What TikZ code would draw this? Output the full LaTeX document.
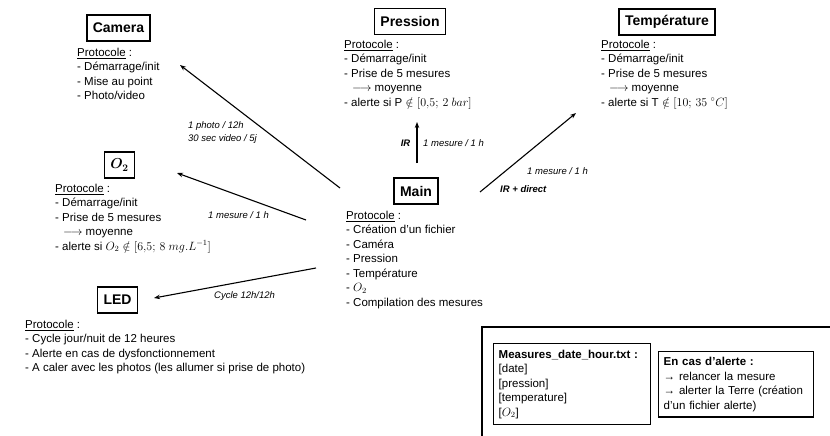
\documentclass[tikz,border=0pt]{standalone}
\usepackage{fontspec}
\setmainfont{Liberation Sans}
\usepackage{amsmath}
\usepackage{bm}
\usetikzlibrary{arrows.meta}
\begin{document}
\begin{tikzpicture}[x=1pt,y=-1pt,
  titlebox/.style={draw,line width=1.4pt,font=\fontsize{14}{16}\selectfont\bfseries,inner xsep=6pt,inner ysep=0pt,minimum height=26pt},
  proto/.style={anchor=north west,align=left,inner sep=0pt,font=\fontsize{11.5}{14.5}\selectfont},
  lbl/.style={anchor=west,inner sep=0pt,font=\fontsize{9.5}{12.5}\selectfont\itshape},
  lblb/.style={anchor=west,inner sep=0pt,font=\fontsize{9.5}{12.5}\selectfont\bfseries\itshape},
  arr/.style={-{Stealth[length=6pt,width=4.5pt]},line width=1.1pt},
  infobox/.style={draw,line width=1.4pt,anchor=north west,inner xsep=5pt,font=\fontsize{11.5}{14.5}\selectfont}
]
\clip (0,0) rectangle (830,436);
\useasboundingbox (0,0) rectangle (830,436);

% title boxes
\node[titlebox] (cam) at (118.5,28) {Camera};
\node[titlebox] (pres) at (410,21.5) {Pression};
\node[titlebox] (temp) at (667,22) {Température};
\node[titlebox] (otwo) at (119.5,165) {$\bm{O_2}$};
\node[titlebox] (led) at (117.5,300) {LED};
\node[titlebox] (main) at (416,191) {Main};

% protocols
\node[proto] (camp) at (77,47.6) {\underline{Protocole} :\\- Démarrage/init\\- Mise au point\\- Photo/video};
\node[proto] (presp) at (344,39.6) {\underline{Protocole} :\\- Démarrage/init\\- Prise de 5 mesures\\\hspace*{8pt}$\longrightarrow$ moyenne\\- alerte si $\mathrm{P}\notin[0{,}5;\,2\ bar]$};
\node[proto] (tempp) at (601,39.6) {\underline{Protocole} :\\- Démarrage/init\\- Prise de 5 mesures\\\hspace*{8pt}$\longrightarrow$ moyenne\\- alerte si $\mathrm{T}\notin[10;\,35\ {}^{\circ}C]$};
\node[proto] (otwop) at (55,183.6) {\underline{Protocole} :\\- Démarrage/init\\- Prise de 5 mesures\\\hspace*{8pt}$\longrightarrow$ moyenne\\- alerte si $O_2\notin[6{,}5;\,8\ mg.L^{-1}]$};
\node[proto] (ledp) at (25,319.6) {\underline{Protocole} :\\- Cycle jour/nuit de 12 heures\\- Alerte en cas de dysfonctionnement\\- A caler avec les photos (les allumer si prise de photo)};
\node[proto] (mainp) at (346,210.6) {\underline{Protocole} :\\- Création d’un fichier\\- Caméra\\- Pression\\- Température\\- $O_2$\\- Compilation des mesures};

% connector end points
\coordinate (camA) at (340,188);
\coordinate (camB) at (180,65);
\coordinate (otwoA) at (306,220);
\coordinate (otwoB) at (177,173);
\coordinate (ledA) at (316,268);
\coordinate (ledB) at (154,298);
\coordinate (presA) at (417,163);
\coordinate (presB) at (417,122);
\coordinate (tempA) at (480,192);
\coordinate (tempB) at (576,113);

\draw[arr] (camA) -- (camB);
\draw[arr] (otwoA) -- (otwoB);
\draw[arr] (ledA) -- (ledB);
\draw[arr] (presA) -- (presB);
\draw[arr] (tempA) -- (tempB);

% labels
\node[lbl,anchor=north west,align=left] (camlbl) at (188,121.5) {1 photo / 12h\\30 sec video / 5j};
\node[lbl] (otwolbl) at (208,215.5) {1 mesure / 1 h};
\node[lbl] (ledlbl) at (214,296) {Cycle 12h/12h};
\node[lblb,anchor=center] (preslblb) at (405.5,143.5) {IR};
\node[lbl] (preslbl) at (423,143) {1 mesure / 1 h};
\node[lbl] (templbl) at (527,171) {1 mesure / 1 h};
\node[lblb] (templblb) at (500,189) {IR + direct};

% bottom right panel
\node[draw,line width=2pt,anchor=north west,minimum width=380pt,minimum height=140pt,inner sep=0pt] (panel) at (481,326) {};
\node[infobox,inner ysep=6pt,text width=147pt,align=left] (meas) at (493,343) {\textbf{Measures\_date\_hour.txt :}\\{}[date]\\{}[pression]\\{}[temperature]\\{}[$O_2$]};
\node[infobox,inner ysep=5.5pt,text width=145pt,align=left] (alert) at (658,351) {\textbf{En cas d’alerte :}\\→ relancer la mesure\\\makebox[145pt][s]{→ alerter la Terre (création}\\d’un fichier alerte)};
\end{tikzpicture}
\end{document}
